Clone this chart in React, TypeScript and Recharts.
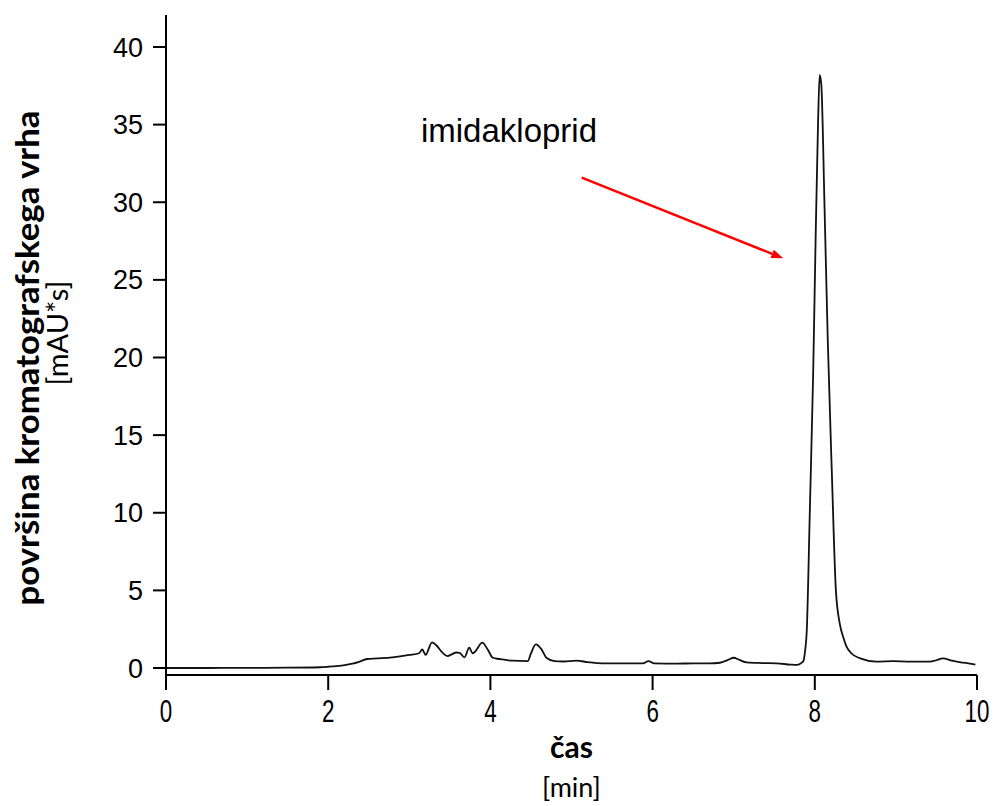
import React from 'react';
import { LineChart, Line, XAxis, YAxis, ReferenceLine, ReferenceDot, Label } from 'recharts';

// retention time [min]
const times = [
  0, 0.5, 1.0, 1.5, 1.9, 2.0, 2.1, 2.22, 2.3, 2.38, 2.48, 2.6, 2.79, 3.0, 3.12, 3.16, 3.2, 3.28, 3.33, 3.41,
  3.47, 3.53, 3.58, 3.62, 3.68, 3.74, 3.78, 3.81, 3.9, 3.97, 4.03, 4.11, 4.27, 4.46, 4.5, 4.56, 4.63, 4.69,
  4.79, 4.9, 5.06, 5.2, 5.38, 5.6, 5.88, 5.95, 6.02, 6.3, 6.5, 6.7, 6.83, 6.93, 7.0, 7.07, 7.16, 7.35, 7.53,
  7.7, 7.78, 7.84, 7.86, 7.88, 7.9, 7.94, 7.98, 8.01, 8.04, 8.06, 8.08, 8.12, 8.16, 8.21, 8.26, 8.31, 8.35,
  8.39, 8.45, 8.56, 8.76, 8.97, 9.17, 9.42, 9.5, 9.58, 9.69, 9.83, 9.98,
];
// detector signal
const signal = [
  0, 0, 0.01, 0.02, 0.05, 0.08, 0.12, 0.2, 0.28, 0.4, 0.58, 0.62, 0.69, 0.84, 0.95, 1.2, 0.85, 1.65, 1.48, 0.99,
  0.77, 0.9, 1.0, 0.98, 0.69, 1.31, 0.94, 1.05, 1.63, 1.16, 0.66, 0.58, 0.47, 0.45, 0.94, 1.52, 1.2, 0.66,
  0.45, 0.42, 0.47, 0.38, 0.3, 0.3, 0.3, 0.45, 0.3, 0.28, 0.3, 0.3, 0.34, 0.52, 0.66, 0.52, 0.36, 0.32, 0.3,
  0.22, 0.2, 0.35, 0.45, 1.1, 2.3, 10.4, 19.0, 27.6, 35.1, 38.2, 37.6, 29.7, 21.1, 12.6, 5.0, 2.8, 2.0,
  1.4, 0.95, 0.62, 0.41, 0.45, 0.41, 0.41, 0.5, 0.62, 0.47, 0.34, 0.22,
];

const xTicks = [0, 2, 4, 6, 8, 10];
const yTicks = [0, 5, 10, 15, 20, 25, 30, 35, 40];

const xTitle = 'čas';
const xUnit = '[min]';
const yTitle = 'površina kromatografskega vrha';
const yUnit = '[mAU*s]';
const peakName = 'imidakloprid';

const labelAt = { t: 3.144, v: 33.88 };
const arrowFrom = { t: 5.126, v: 31.58 };
const arrowTo = { t: 7.612, v: 26.39 };

const data = times.map((t, i) => ({ t, v: signal[i] }));

const Arrow = (p: any) => {
  const { x1, y1, x2, y2 } = p;
  const ang = Math.atan2(y2 - y1, x2 - x1);
  const L = 12;
  const W = 4.5;
  const bx = x2 - L * Math.cos(ang);
  const by = y2 - L * Math.sin(ang);
  const px = -Math.sin(ang) * W;
  const py = Math.cos(ang) * W;
  return (
    <g>
      <line x1={x1} y1={y1} x2={bx} y2={by} stroke="#ff0000" strokeWidth={2.5} />
      <polygon points={`${x2},${y2} ${bx + px},${by + py} ${bx - px},${by - py}`} fill="#ff0000" />
    </g>
  );
};

const PeakText = (p: any) => (
  <text x={p.cx} y={p.cy} fontSize={33} fontFamily="'Liberation Sans', Arial, sans-serif" fill="#000">
    {peakName}
  </text>
);

const XTick = (p: any) => {
  const { x, y, payload } = p;
  return (
    <text
      transform={`translate(${x}, ${y + 1}) scale(0.7, 1)`}
      x={0}
      y={0}
      dy="0.71em"
      textAnchor="middle"
      fontSize={32}
      fontFamily="'Liberation Sans', Arial, sans-serif"
      fill="#000"
    >
      {payload.value}
    </text>
  );
};

const XTitle = (props: any) => {
  const vb = props.viewBox;
  const cx = vb.x + vb.width / 2;
  return (
    <g>
      <text x={cx} y={vb.y + 83} textAnchor="middle" fontSize={30} fontWeight="bold" fontFamily="Lato, sans-serif" fill="#000">
        {xTitle}
      </text>
      <text x={cx} y={vb.y + 122} textAnchor="middle" fontSize={27} fontFamily="Lato, sans-serif" fill="#000">
        {xUnit}
      </text>
    </g>
  );
};

const YTitle = (props: any) => {
  const vb = props.viewBox;
  const x1 = vb.x - 67;
  const y1 = vb.y + 343;
  const x2 = vb.x - 38;
  const y2 = vb.y + 318;
  return (
    <g>
      <text
        x={x1}
        y={y1}
        transform={`rotate(-90, ${x1}, ${y1})`}
        textAnchor="middle"
        fontSize={32}
        fontWeight="bold"
        fontFamily="Lato, sans-serif"
        textLength={495}
        lengthAdjust="spacingAndGlyphs"
        fill="#000"
      >
        {yTitle}
      </text>
      <text x={x2} y={y2} transform={`rotate(-90, ${x2}, ${y2})`} textAnchor="middle" fontSize={29} fontFamily="Lato, sans-serif" fill="#000">
        {yUnit}
      </text>
    </g>
  );
};

export default function App() {
  return (
    <div style={{ position: 'absolute', left: 0, top: 0, width: 995, height: 806, background: '#fff' }}>
      <LineChart width={995} height={806} data={data} margin={{ top: 15, right: 18, left: 106, bottom: 91 }}>
        <XAxis
          dataKey="t"
          type="number"
          domain={[0, 10]}
          ticks={xTicks}
          allowDataOverflow
          height={40}
          tickSize={15}
          tickMargin={8}
          axisLine={{ stroke: '#000', strokeWidth: 2 }}
          tickLine={{ stroke: '#000', strokeWidth: 2 }}
          tick={XTick}
        >
          <Label content={XTitle} />
        </XAxis>
        <YAxis
          type="number"
          domain={[-0.45, 42.06]}
          ticks={yTicks}
          allowDataOverflow
          width={60}
          tickSize={13}
          tickMargin={10}
          axisLine={{ stroke: '#000', strokeWidth: 2 }}
          tickLine={{ stroke: '#000', strokeWidth: 2 }}
          tick={{ fontSize: 27, fontFamily: "'Liberation Sans', Arial, sans-serif", fill: '#000' }}
        >
          <Label content={YTitle} />
        </YAxis>
        <Line
          type="monotone"
          dataKey="v"
          stroke="#111"
          strokeWidth={1.8}
          dot={false}
          activeDot={false}
          isAnimationActive={false}
        />
        <ReferenceLine
          segment={[{ x: arrowFrom.t, y: arrowFrom.v }, { x: arrowTo.t, y: arrowTo.v }]}
          shape={Arrow}
          ifOverflow="visible"
        />
        <ReferenceDot x={labelAt.t} y={labelAt.v} r={0} shape={PeakText} ifOverflow="visible" />
      </LineChart>
    </div>
  );
}
